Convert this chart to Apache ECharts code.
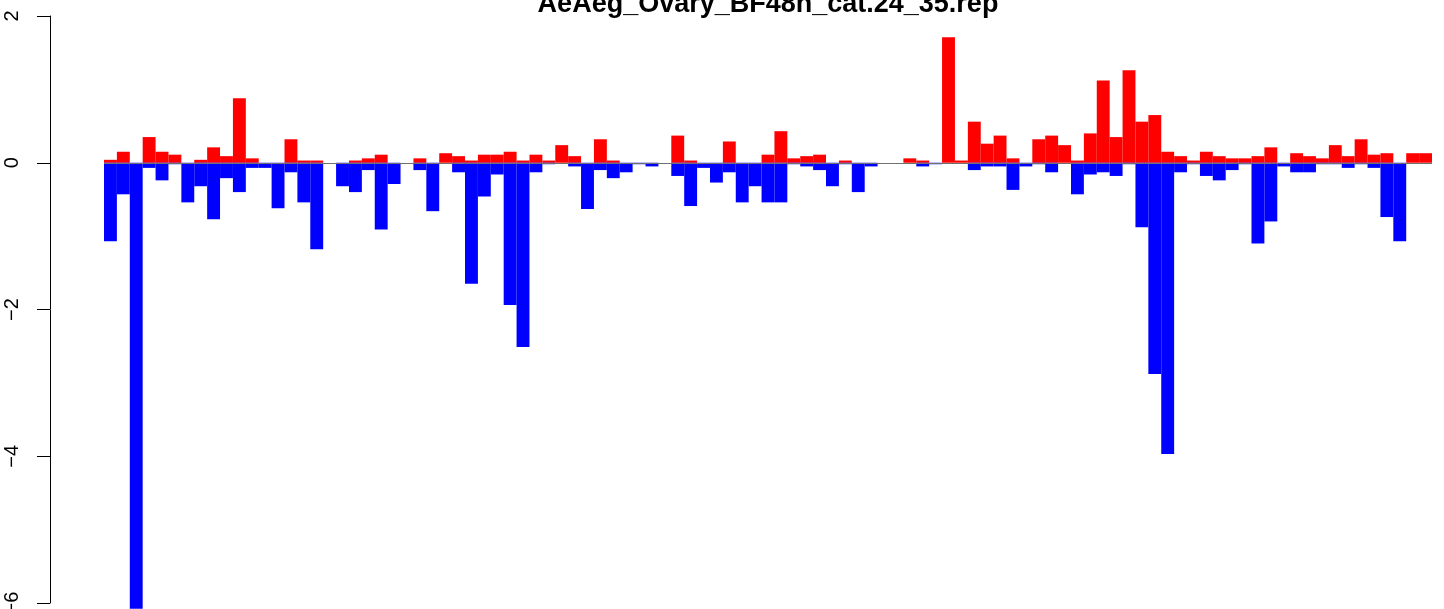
<!DOCTYPE html>
<html>
<head>
<meta charset="utf-8">
<script src="https://cdn.jsdelivr.net/npm/echarts@6/dist/echarts.min.js"></script>
<style>
html,body{margin:0;padding:0;background:#fff;overflow:hidden;}
#chart{width:1444px;height:609px;}
</style>
</head>
<body>
<div id="chart"></div>
<script>
const titleText = "AeAeg_Ovary_BF48h_cat.24_35.rep";

const upValues = [
  0.04, 0.15, 0, 0.35, 0.15, 0.11, 0, 0.04, 0.21, 0.09,
  0.88, 0.06, 0, 0, 0.32, 0.03, 0.03, 0, 0, 0.03,
  0.06, 0.11, 0, 0, 0.06, 0, 0.13, 0.09, 0.03, 0.11,
  0.11, 0.15, 0.03, 0.11, 0.03, 0.24, 0.09, 0, 0.32, 0.03,
  0, 0, 0, 0, 0.37, 0.03, 0, 0, 0.29, 0,
  0, 0.11, 0.43, 0.06, 0.09, 0.11, 0, 0.03, 0, 0,
  0, 0, 0.06, 0.03, 0, 1.71, 0.03, 0.56, 0.26, 0.37,
  0.06, 0, 0.32, 0.37, 0.24, 0.03, 0.40, 1.12, 0.35, 1.26,
  0.56, 0.65, 0.15, 0.09, 0.03, 0.15, 0.09, 0.06, 0.06, 0.09,
  0.21, 0, 0.13, 0.09, 0.06, 0.24, 0.09, 0.32, 0.11, 0.13,
  0, 0.13, 0.13
];

const downValues = [
  -1.07, -0.43, -6.08, -0.07, -0.24, -0.02, -0.54, -0.32, -0.77, -0.21,
  -0.40, -0.07, -0.07, -0.62, -0.13, -0.54, -1.18, 0, -0.32, -0.40,
  -0.10, -0.91, -0.29, 0, -0.10, -0.66, 0, -0.13, -1.65, -0.46,
  -0.16, -1.94, -2.51, -0.13, -0.02, 0, -0.05, -0.63, -0.10, -0.21,
  -0.13, -0.02, -0.05, 0, -0.18, -0.59, -0.07, -0.27, -0.13, -0.54,
  -0.32, -0.54, -0.54, -0.02, -0.05, -0.10, -0.32, -0.02, -0.40, -0.05,
  0, 0, 0, -0.05, -0.02, 0, 0, -0.10, -0.05, -0.05,
  -0.37, -0.05, -0.02, -0.13, 0, -0.43, -0.16, -0.13, -0.18, -0.02,
  -0.88, -2.88, -3.97, -0.13, -0.02, -0.18, -0.24, -0.10, -0.02, -1.10,
  -0.80, -0.05, -0.13, -0.13, -0.02, -0.02, -0.07, -0.02, -0.07, -0.74,
  -1.07, 0, 0
];

const categories = upValues.map((_, i) => String(i + 1));

const yTicks = { min: -6, max: 2, interval: 2 };

const chart = echarts.init(document.getElementById('chart'), null, { renderer: 'canvas' });

chart.setOption({
  animation: false,
  backgroundColor: '#ffffff',
  graphic: [{
    type: 'text',
    x: 768,
    y: 5,
    silent: true,
    style: {
      text: titleText,
      font: 'bold 27px "Liberation Sans", Arial, sans-serif',
      fill: '#000',
      align: 'center',
      verticalAlign: 'middle',
      textAlign: 'center',
      textVerticalAlign: 'middle'
    }
  }],
  grid: { left: 104, right: 12, top: 16, bottom: 6, containLabel: false, outerBoundsMode: 'none' },
  xAxis: {
    type: 'category',
    data: categories,
    show: false,
    boundaryGap: true
  },
  yAxis: {
    type: 'value',
    min: yTicks.min,
    max: yTicks.max,
    interval: yTicks.interval,
    offset: 54,
    axisLine: { show: true, lineStyle: { color: '#000', width: 1 } },
    axisTick: { show: true, length: 13, lineStyle: { color: '#000', width: 1 } },
    splitLine: { show: false },
    axisLabel: {
      rotate: 90,
      margin: 28,
      color: '#000',
      fontSize: 20,
      fontFamily: '"Liberation Sans", Arial, sans-serif',
      formatter: v => String(v).replace('-', '\u2212')
    }
  },
  series: [
    {
      type: 'line',
      data: [],
      z: 0,
      silent: true,
      markLine: {
        silent: true,
        symbol: 'none',
        label: { show: false },
        lineStyle: { color: '#707070', width: 1, type: 'solid' },
        data: [{ yAxis: 0 }]
      }
    },
    {
      name: 'up',
      type: 'bar',
      data: upValues,
      barWidth: '100%',
      barGap: '-100%',
      barCategoryGap: '0%',
      clip: false,
      z: 2,
      itemStyle: { color: '#ff0000' }
    },
    {
      name: 'down',
      type: 'bar',
      data: downValues,
      barWidth: '100%',
      barGap: '-100%',
      barCategoryGap: '0%',
      clip: false,
      z: 2,
      itemStyle: { color: '#0000ff' }
    }
  ]
});
</script>
</body>
</html>
